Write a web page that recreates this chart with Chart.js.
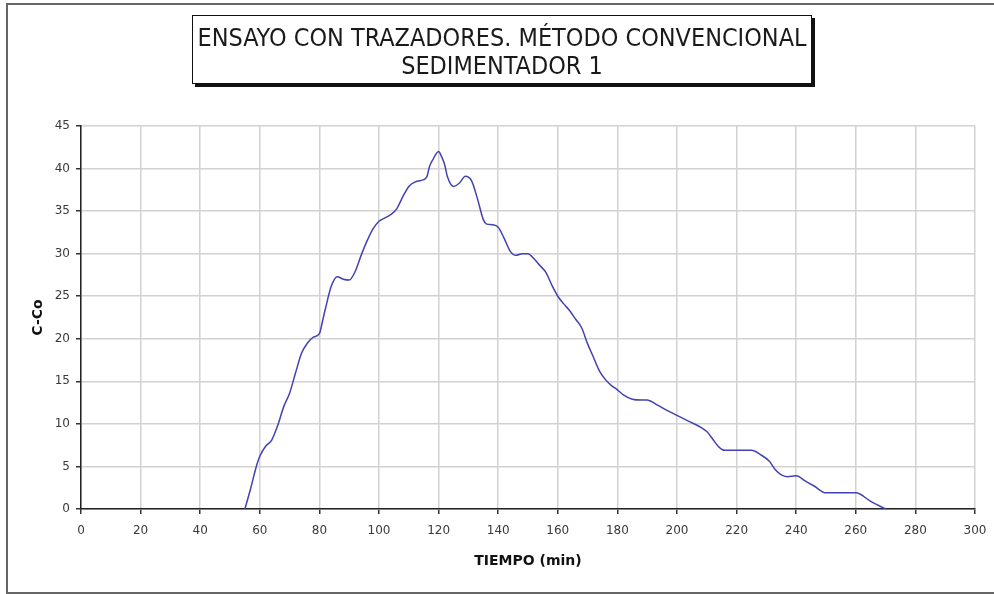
<!DOCTYPE html>
<html lang="es">
<head>
    <meta charset="UTF-8">
    <title>Ensayo con trazadores</title>
    <script src="https://cdn.jsdelivr.net/npm/chart.js"></script>
    <style>
        html, body { margin: 0; background: #fff; overflow: hidden; }
        .wrap { position: relative; width: 994px; height: 594px; overflow: hidden; }
        .frame {
            position: absolute; left: 6px; top: 3px; width: 1200px; height: 587px;
            border: 2px solid #666; border-right: none;
        }
        #chart { position: absolute; left: 0; top: 0; }
    </style>
</head>
<body>
<div class="wrap">
    <div class="frame"></div>
    <canvas id="chart" width="994" height="594"></canvas>
</div>

    <script>
        // Data
        const tiempo = [55, 57, 59, 60, 62, 64, 66, 68, 70, 72, 74, 76, 78, 80, 81, 82, 84, 86, 88, 90,
            92, 94, 96, 98, 100, 102, 104, 106, 108, 110, 112, 114, 116, 117, 118, 120, 121, 122, 123, 125,
            127, 129, 131, 133, 135, 136, 138, 140, 142, 144, 146, 148, 150, 152, 154, 156, 158, 160, 162, 164,
            166, 168, 170, 172, 174, 176, 178, 180, 182, 185, 188, 190, 193, 196, 200, 204, 208, 210, 212, 214,
            216, 218, 222, 225, 228, 231, 233, 235, 237, 240, 243, 246, 250, 255, 260, 265, 270];
        const concentracion = [0, 2.5, 5.2, 6.2, 7.4, 8.1, 9.8, 12.0, 13.6, 16.0, 18.3, 19.5, 20.2, 20.6, 22.0, 23.5, 26.2, 27.3, 27.0, 26.9,
            27.9, 29.8, 31.5, 32.9, 33.8, 34.2, 34.6, 35.3, 36.7, 37.9, 38.4, 38.6, 39.0, 40.3, 41.0, 42.0, 41.4, 40.5, 39.0, 37.9,
            38.3, 39.1, 38.6, 36.5, 34.0, 33.5, 33.4, 33.1, 31.8, 30.3, 29.8, 30.0, 30.0, 29.4, 28.6, 27.8, 26.3, 25.0, 24.1, 23.3,
            22.3, 21.3, 19.4, 17.8, 16.2, 15.2, 14.5, 14.0, 13.4, 12.9, 12.8, 12.8, 12.3, 11.7, 11.0, 10.3, 9.6, 9.1, 8.2, 7.3,
            6.9, 6.9, 6.9, 6.9, 6.4, 5.6, 4.6, 4.0, 3.8, 3.9, 3.3, 2.7, 1.9, 1.9, 1.9, 0.9, 0];
        const titulo = ['ENSAYO CON TRAZADORES. MÉTODO CONVENCIONAL', 'SEDIMENTADOR 1'];

        const puntos = tiempo.map((t, i) => ({ x: t, y: concentracion[i] }));

        // Boxed title with drop shadow, like the spreadsheet original
        const titleBox = {
            id: 'titleBox',
            afterDraw(chart) {
                const ctx = chart.ctx;
                const x0 = 192, y0 = 15, w = 620, h = 69;
                ctx.save();
                ctx.fillStyle = '#111';
                ctx.fillRect(x0 + 3, y0 + 3, w, h);
                ctx.fillStyle = '#fff';
                ctx.fillRect(x0, y0, w, h);
                ctx.strokeStyle = '#111';
                ctx.lineWidth = 1;
                ctx.strokeRect(x0 + 0.5, y0 + 0.5, w - 1, h - 1);

                ctx.font = '24px "Liberation Sans Narrow", "DejaVu Sans Condensed", "Liberation Sans", sans-serif';
                ctx.fillStyle = '#1a1a1a';
                ctx.textAlign = 'center';
                ctx.textBaseline = 'alphabetic';
                const sx = 609 / ctx.measureText(titulo[0]).width;
                const cx = x0 + w / 2;
                ctx.translate(cx, 0);
                ctx.scale(sx, 1);
                ctx.fillText(titulo[0], 0, 46);
                ctx.fillText(titulo[1], 0, 74);
                ctx.restore();
            }
        };

        const tickFont = { family: '"DejaVu Sans", Verdana, sans-serif', size: 12 };
        const titleFont = { family: '"DejaVu Sans", Verdana, sans-serif', size: 14, weight: 'bold' };

        new Chart(document.getElementById('chart'), {
            type: 'line',
            data: {
                datasets: [{
                    data: puntos,
                    borderColor: '#4242b2',
                    borderWidth: 1.5,
                    pointRadius: 0,
                    cubicInterpolationMode: 'monotone',
                    fill: false
                }]
            },
            options: {
                responsive: false,
                animation: false,
                layout: { padding: { top: 126, right: 19, left: 0, bottom: 0 } },
                plugins: {
                    legend: { display: false },
                    tooltip: { enabled: false }
                },
                scales: {
                    x: {
                        type: 'linear',
                        min: 0,
                        max: 300,
                        ticks: { stepSize: 20, color: '#3a3a3a', font: tickFont, padding: 10, maxRotation: 0 },
                        grid: { color: '#d2d2d2', lineWidth: 1.5, tickColor: '#333', tickLength: 5 },
                        border: { color: '#222', width: 1.5 },
                        title: { display: true, text: 'TIEMPO (min)', color: '#111', font: titleFont, padding: { top: 0, bottom: 24 } },
                        afterFit(scale) {
                            scale.height = 85;
                            scale.paddingLeft = 0;
                            scale.paddingRight = 0;
                        }
                    },
                    y: {
                        min: 0,
                        max: 45,
                        ticks: { stepSize: 5, color: '#3a3a3a', font: tickFont, padding: 6 },
                        grid: { color: '#d2d2d2', lineWidth: 1.5, tickColor: '#333', tickLength: 5 },
                        border: { color: '#222', width: 1.5 },
                        title: { display: true, text: 'C-Co', color: '#111', font: titleFont, padding: { top: 30, bottom: 0 } },
                        afterFit(scale) { scale.width = 81; }
                    }
                }
            },
            plugins: [titleBox]
        });
    </script>
</body>
</html>
